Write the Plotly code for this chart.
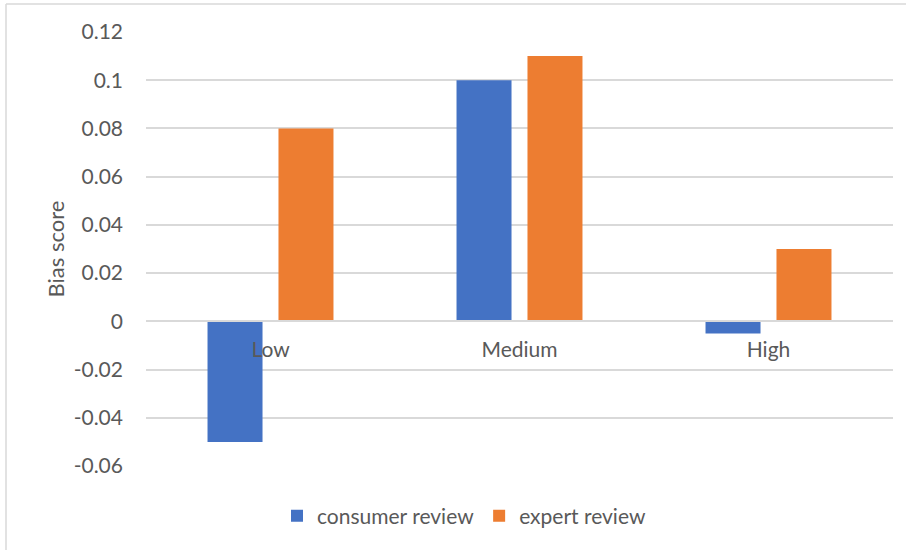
import plotly.graph_objects as go

# Bias score by category for the two review sources
categories = ["Low", "Medium", "High"]
consumer_review = [-0.05, 0.10, -0.005]
expert_review = [0.08, 0.11, 0.03]

y_tick_values = [0.12, 0.10, 0.08, 0.06, 0.04, 0.02, 0.0, -0.02, -0.04, -0.06]
y_tick_labels = ["0.12", "0.1", "0.08", "0.06", "0.04", "0.02", "0", "-0.02", "-0.04", "-0.06"]

BLUE = "#4472C4"
ORANGE = "#ED7D31"
GRID = "#D9D9D9"
TEXT = "#595959"
FONT = "Lato, 'Open Sans', sans-serif"
FS = 21

W, H = 906, 550
L, R, T, B = 146, 13, 32, 84
y_min, y_max = -0.06, 0.12

fig = go.Figure()
fig.add_trace(go.Bar(name="consumer review", x=categories, y=consumer_review,
                     marker=dict(color=BLUE, line=dict(width=0))))
fig.add_trace(go.Bar(name="expert review", x=categories, y=expert_review,
                     marker=dict(color=ORANGE, line=dict(width=0))))

# outer chart frame (top and left edges)
pw, ph = W - L - R, H - T - B
fx = (6 - L) / pw
fy = 1 + (T - 4) / ph
frame = dict(type="line", xref="paper", yref="paper", line=dict(color=GRID, width=1.5))
fig.add_shape(**frame, x0=fx, x1=1 + (R + 10) / pw, y0=fy, y1=fy)
fig.add_shape(**frame, x0=fx, x1=fx, y0=fy, y1=-(B + 10) / ph)

fig.update_layout(
    width=W, height=H,
    margin=dict(l=L, r=R, t=T, b=B, pad=0, autoexpand=False),
    paper_bgcolor="white", plot_bgcolor="white",
    font=dict(family=FONT, size=FS, color=TEXT),
    barmode="group", bargap=0.43, bargroupgap=0.225,
    showlegend=True,
    legend=dict(orientation="h", xref="container", yref="container",
                x=464 / W, xanchor="center", y=(H - 516) / H, yanchor="middle",
                font=dict(size=FS, color=TEXT), itemwidth=30,
                traceorder="normal", bgcolor="rgba(0,0,0,0)"),
    xaxis=dict(
        anchor="free", position=(0 - y_min) / (y_max - y_min),
        showline=True, linecolor=GRID, linewidth=1.5,
        showgrid=False, ticks="", ticklabelstandoff=10,
        tickfont=dict(size=FS, color=TEXT),
    ),
    yaxis=dict(
        range=[y_min, y_max], tickmode="array",
        tickvals=y_tick_values, ticktext=y_tick_labels,
        showgrid=True, gridcolor=GRID, gridwidth=1.5,
        zeroline=False, showline=False, ticks="",
        ticklabelstandoff=22, tickfont=dict(size=FS, color=TEXT),
        title=dict(text="Bias score", standoff=2, font=dict(size=22, color=TEXT)),
    ),
)

fig.write_html("out.html")
